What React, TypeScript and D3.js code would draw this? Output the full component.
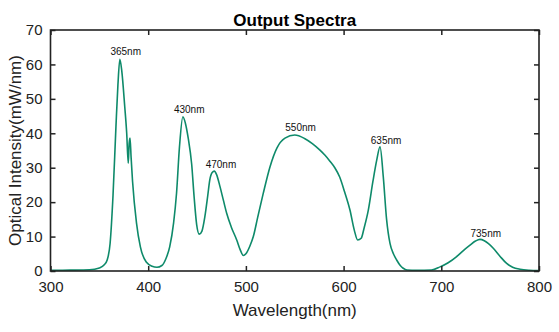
import React, { useRef, useEffect } from 'react';
import * as d3 from 'd3';

// spectrum (wavelength nm, intensity mW/nm)
const wavelengths = [300, 320, 340, 350, 355, 358, 361, 364, 367, 369, 371, 373, 376, 378, 379.6, 380.5, 381.4, 382.5, 384, 388, 392, 398, 404, 409, 414, 418, 422, 426, 429, 432, 435.5, 438, 441, 444.5, 447, 449.6, 452.3, 455, 458, 461, 463, 465.5, 467.7, 470, 473.5, 477, 480.4, 485, 490.6, 494, 497.4, 500, 504, 507.6, 512, 517.8, 524.7, 531.7, 540, 550, 560, 568, 575.8, 581, 586, 591, 596, 601, 606.5, 611, 614.4, 618, 621, 625.3, 630, 633.9, 637.3, 640.6, 644, 647.5, 651, 654.3, 658, 661, 665, 675, 690, 698.7, 707, 715.7, 722, 729.4, 735, 739.6, 744, 748, 753.2, 760, 766.9, 773, 780.6, 790, 800];
const intensity = [0.2, 0.25, 0.35, 0.9, 1.8, 3.2, 8, 22, 42, 54, 61.5, 58, 47.7, 40, 31.3, 37, 38.6, 33, 26, 14, 7, 2.6, 1.4, 1.1, 1.6, 3.5, 7, 14, 22.6, 36, 44.8, 43, 38.5, 31, 21.5, 13.5, 10.7, 11.6, 15.8, 22, 26.4, 28.6, 29, 28, 24.5, 20.5, 16.7, 12.8, 9, 6.3, 4.5, 5, 7.2, 10, 15.5, 22.6, 30.3, 35.7, 38.6, 39.5, 38.5, 37, 35.1, 33.6, 31.9, 30, 27.3, 23, 17.7, 11.8, 9, 9.5, 12.5, 17.7, 26, 32.2, 36.1, 27.4, 15, 8, 5, 3.2, 1.6, 0.8, 0.3, 0.2, 0.3, 1.2, 2.4, 4.2, 5.8, 7.5, 8.7, 9.2, 8.8, 8, 6.6, 4.3, 2.2, 1.1, 0.5, 0.2, 0.1];

const peakLabels = ['365nm', '430nm', '470nm', '550nm', '635nm', '735nm'];
const peakLabelX = [377, 442, 474.5, 556, 643.5, 745.5];
const peakLabelY = [63.7, 46.8, 30.8, 41.6, 37.8, 10.9];

const xTicks = [300, 400, 500, 600, 700, 800];
const yTicks = [0, 10, 20, 30, 40, 50, 60, 70];

const width = 559;
const height = 332;

const App = () => {
  const svgRef = useRef<SVGSVGElement>(null);

  useEffect(() => {
    const svg = d3.select(svgRef.current);
    svg.selectAll('*').remove();

    const margin = { top: 30, right: 20, bottom: 61, left: 50.5 };
    const innerWidth = width - margin.left - margin.right;
    const innerHeight = height - margin.top - margin.bottom;

    const xScale = d3.scaleLinear().domain([300, 800]).range([0, innerWidth]);
    const yScale = d3.scaleLinear().domain([0, 70]).range([innerHeight, 0]);

    const g = svg.append('g')
      .attr('transform', `translate(${margin.left}, ${margin.top})`);

    const data = wavelengths.map((w, i) => ({ w, v: intensity[i] }));
    const line = d3.line<{ w: number; v: number }>()
      .x(d => xScale(d.w))
      .y(d => yScale(d.v))
      .curve(d3.curveMonotoneX);

    g.append('path')
      .datum(data)
      .attr('fill', 'none')
      .attr('stroke', '#0e8a6a')
      .attr('stroke-width', 1.6)
      .attr('d', line);

    // axes, ticks pointing inward
    const font = 'Arial, "Liberation Sans", sans-serif';
    const styleAxis = (sel: any) => {
      sel.select('.domain').remove();
      sel.selectAll('line').attr('stroke', '#222').attr('stroke-width', 1.5);
      sel.selectAll('text').attr('font-family', font).attr('font-size', 15).attr('fill', '#222');
    };

    g.append('g')
      .attr('transform', `translate(0, ${innerHeight})`)
      .call(d3.axisBottom(xScale).tickValues(xTicks).tickSizeInner(-5).tickSizeOuter(0).tickPadding(10))
      .call(styleAxis);
    g.append('g')
      .call(d3.axisTop(xScale).tickValues(xTicks).tickSizeInner(-5).tickSizeOuter(0).tickFormat(() => ''))
      .call(styleAxis);
    g.append('g')
      .call(d3.axisLeft(yScale).tickValues(yTicks).tickSizeInner(-5).tickSizeOuter(0).tickPadding(8))
      .call(styleAxis);
    g.append('g')
      .attr('transform', `translate(${innerWidth}, 0)`)
      .call(d3.axisRight(yScale).tickValues(yTicks).tickSizeInner(-5).tickSizeOuter(0).tickFormat(() => ''))
      .call(styleAxis);

    g.append('rect')
      .attr('width', innerWidth)
      .attr('height', innerHeight)
      .attr('fill', 'none')
      .attr('stroke', '#222')
      .attr('stroke-width', 1.6);

    g.selectAll('.peak')
      .data(peakLabels)
      .join('text')
      .attr('class', 'peak')
      .attr('x', (d, i) => xScale(peakLabelX[i]))
      .attr('y', (d, i) => yScale(peakLabelY[i]))
      .attr('dy', '.35em')
      .attr('text-anchor', 'middle')
      .attr('font-family', font)
      .attr('font-size', 10)
      .attr('fill', '#111')
      .text(d => d);

    svg.append('text')
      .attr('x', margin.left + innerWidth / 2)
      .attr('y', 26)
      .attr('text-anchor', 'middle')
      .attr('font-family', font)
      .attr('font-weight', 'bold')
      .attr('font-size', 17)
      .text('Output Spectra');

    svg.append('text')
      .attr('x', margin.left + innerWidth / 2)
      .attr('y', 316)
      .attr('text-anchor', 'middle')
      .attr('font-family', font)
      .attr('font-size', 17)
      .attr('fill', '#222')
      .text('Wavelength(nm)');

    svg.append('text')
      .attr('transform', `translate(21, ${margin.top + innerHeight / 2}) rotate(-90)`)
      .attr('text-anchor', 'middle')
      .attr('font-family', font)
      .attr('font-size', 17)
      .attr('fill', '#222')
      .text('Optical Intensity(mW/nm)');
  }, []);

  return (
    <svg ref={svgRef} width={width} height={height}
      style={{ position: 'absolute', left: 0, top: 0, background: '#fff' }}></svg>
  );
};

export default App;
